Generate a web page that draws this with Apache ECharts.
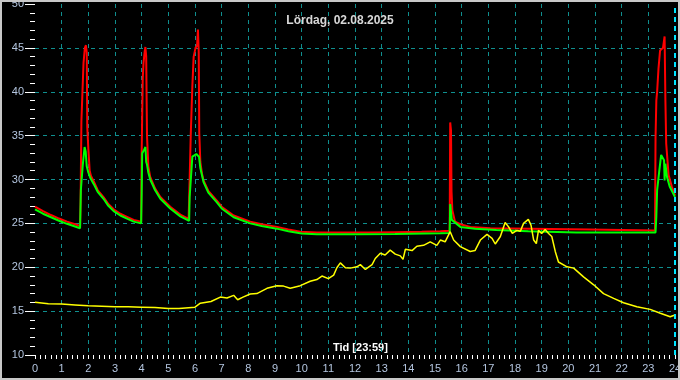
<!DOCTYPE html>
<html>
<head>
<meta charset="utf-8">
<script src="https://cdn.jsdelivr.net/npm/echarts@6/dist/echarts.min.js"></script>
<style>
html,body{margin:0;padding:0;background:#000;}
#c{width:680px;height:380px;}
</style>
</head>
<body>
<div id="c"></div>
<script>
var titleText = "Lördag, 02.08.2025";
var xName = "Tid [23:59]";
var yName = "°C";

var redHours = [0,0.3,0.6,0.9,1.2,1.5,1.69,1.71,1.74,1.78,1.82,1.87,1.91,1.94,1.96,2.0,2.05,2.1,2.2,2.35,2.57,2.75,2.95,3.2,3.45,3.7,3.98,
  4.0,4.04,4.07,4.11,4.14,4.17,4.2,4.25,4.32,4.5,4.7,5.07,5.45,5.76,
  5.78,5.84,5.9,5.95,6.02,6.08,6.11,6.14,6.16,6.2,6.26,6.32,6.5,6.82,7.0,7.45,8.07,8.5,9.07,9.5,9.95,10.57,11.5,12.5,13.5,14.5,15.2,15.55,
  15.57,15.6,15.62,15.65,15.75,15.95,16.32,17.07,18.57,20.8,23.25,
  23.27,23.3,23.33,23.38,23.44,23.55,23.59,23.61,23.64,23.67,23.76,23.88,24.0];
var redTemps = [26.9,26.4,25.95,25.55,25.2,24.9,24.7,27.5,36.6,40.0,43.3,45.0,45.3,44.5,36.0,33.5,31.0,30.4,29.8,28.8,28.0,27.2,26.6,26.1,25.75,25.4,25.2,
  33.0,41.5,43.3,44.5,45.1,44.0,35.0,31.5,30.3,29.0,28.0,26.9,26.0,25.5,
  27.6,35.0,40.6,44.0,45.0,45.3,47.1,44.5,35.3,32.0,30.7,29.9,28.7,27.6,26.9,25.9,25.2,24.9,24.6,24.3,24.05,23.97,23.95,23.95,24.0,24.05,24.1,24.15,
  36.5,35.6,28.6,26.5,25.2,24.9,24.6,24.45,24.4,24.3,24.2,
  34.7,39.0,40.0,42.6,44.7,45.0,44.8,46.3,39.0,34.1,30.5,29.2,28.2];

var greenHours = [0,0.3,0.6,0.9,1.2,1.5,1.69,1.72,1.79,1.86,1.9,1.94,2.0,2.07,2.2,2.35,2.57,2.75,2.95,3.2,3.45,3.7,3.98,
  4.0,4.02,4.08,4.14,4.17,4.2,4.25,4.32,4.5,4.7,5.07,5.45,5.78,
  5.8,5.9,5.97,6.05,6.15,6.2,6.32,6.5,6.82,7.0,7.45,8.07,8.5,9.07,9.5,10.0,10.57,12.0,13.5,15.2,15.55,
  15.57,15.63,15.95,16.5,17.3,18.5,20.3,23.27,
  23.3,23.33,23.4,23.48,23.54,23.59,23.61,23.64,23.7,23.8,24.0];
var greenTemps = [26.6,26.1,25.7,25.3,24.95,24.65,24.45,28.8,31.6,33.7,33.2,31.5,30.8,30.2,29.5,28.6,27.8,27.0,26.4,25.9,25.55,25.2,25.0,
  28.4,33.0,33.3,33.7,32.0,31.7,30.8,30.0,28.8,27.8,26.7,25.8,25.3,
  28.0,32.6,32.8,32.9,32.6,31.3,29.7,28.5,27.4,26.7,25.7,25.0,24.7,24.4,24.1,23.85,23.75,23.75,23.8,23.88,23.9,
  27.2,25.4,24.6,24.4,24.24,24.1,23.97,23.97,
  25.75,28.8,30.7,32.8,32.6,32.2,29.9,31.8,30.3,29.2,28.0];

var yellowHours = [0,0.5,1,1.5,2,2.5,3,3.5,4,4.5,5,5.4,6,6.2,6.6,6.95,7.2,7.45,7.6,7.8,8.07,8.32,8.7,9.07,9.32,9.57,9.95,10.32,10.57,10.76,11.0,11.2,11.32,11.45,11.64,11.82,12.07,12.2,12.39,12.64,12.76,12.95,13.13,13.32,13.51,13.7,13.8,13.89,14.14,14.32,14.57,14.82,15.07,15.2,15.38,15.57,15.7,15.95,16.32,16.5,16.7,16.95,17.14,17.26,17.45,17.63,17.76,17.9,18.07,18.2,18.32,18.5,18.6,18.7,18.8,18.88,19.0,19.13,19.26,19.38,19.51,19.63,19.95,20.2,20.57,20.95,21.32,21.7,22.07,22.57,23.07,23.45,23.82,24.0];
var yellowTemps = [16.0,15.85,15.8,15.7,15.6,15.55,15.5,15.5,15.45,15.4,15.3,15.3,15.45,15.9,16.1,16.6,16.5,16.8,16.3,16.6,16.95,17.0,17.6,17.9,17.85,17.6,17.9,18.4,18.6,19.0,18.7,19.1,19.95,20.5,19.95,19.9,20.05,20.3,19.75,20.3,21.0,21.6,21.4,21.95,21.5,21.3,20.9,22.05,21.9,22.4,22.5,22.9,22.5,23.1,22.9,24.05,23.1,22.35,21.8,21.9,23.1,23.75,23.3,22.65,23.5,25.1,24.6,23.85,24.2,24.1,25.0,25.45,24.8,23.1,22.7,24.2,23.85,24.3,23.85,23.5,21.8,20.6,20.05,19.9,18.9,18.0,17.0,16.45,15.95,15.5,15.2,14.75,14.35,14.55];

var xTicks = [0,24,1];
var yTicks = [10,50,5];

function pairs(h, v){ var o=[]; for(var i=0;i<h.length;i++) o.push([h[i], v[i]]); return o; }

var labelColor = '#b4c6e0';
var gridColor = '#0f8f8f';
var chart = echarts.init(document.getElementById('c'), null, {renderer:'canvas'});
chart.setOption({
  backgroundColor: '#000',
  animation: false,
  title: {
    text: titleText, left: 'center', top: 10,
    textStyle: {color:'#d8d8d8', fontSize:12, fontWeight:'bold', fontFamily:'Liberation Sans'}
  },
  grid: {left:35, right:5, top:4, bottom:25, containLabel:false, outerBoundsMode:'none'},
  xAxis: {
    type:'value', min:xTicks[0], max:xTicks[1], interval:xTicks[2],
    axisLine:{show:false},
    axisTick:{show:true, length:4, lineStyle:{color:'#ffffff', width:1}},
    minorTick:{show:true, splitNumber:5, length:4, lineStyle:{color:'#ffffff', width:1}},
    axisLabel:{color:labelColor, fontSize:11, fontFamily:'Liberation Sans', margin:8},
    splitLine:{show:true, showMinLine:false, showMaxLine:false, lineStyle:{color:gridColor, type:[4,4], width:1}}
  },
  yAxis: {
    type:'value', min:yTicks[0], max:yTicks[1], interval:yTicks[2],
    name: yName, nameLocation:'middle', nameRotate:90, nameGap:22,
    nameTextStyle:{color:'#e0e0e0', fontSize:11, fontFamily:'Liberation Sans'},
    axisLine:{show:false},
    axisTick:{show:true, length:10, lineStyle:{color:'#ffffff', width:1}},
    minorTick:{show:true, splitNumber:5, length:5, lineStyle:{color:'#ffffff', width:1}},
    axisLabel:{color:labelColor, fontSize:11, fontFamily:'Liberation Sans', margin:11},
    splitLine:{show:true, showMinLine:false, showMaxLine:false, lineStyle:{color:gridColor, type:[4,4], width:1}}
  },
  graphic: [
    {type:'text', left:333, top:342, style:{text:xName, fill:'#ffffff', font:'bold 11px "Liberation Sans"'}},
    {type:'rect', shape:{x:1, y:1, width:678, height:378}, style:{fill:'none', stroke:'#c8c8c8', lineWidth:2}, z:100}
  ],
  series: [
    {type:'line', data:pairs(redHours, redTemps), showSymbol:false, lineStyle:{color:'#ff0000', width:2}, itemStyle:{color:'#ff0000'}, z:2,
     markLine:{silent:true, symbol:['none','none'], label:{show:false}, lineStyle:{color:'#00e5ff', type:[5,4], width:2}, data:[{xAxis:xTicks[1]}]}},
    {type:'line', data:pairs(greenHours, greenTemps), showSymbol:false, lineStyle:{color:'#00ff00', width:2}, itemStyle:{color:'#00ff00'}, z:3},
    {type:'line', data:pairs(yellowHours, yellowTemps), showSymbol:false, lineStyle:{color:'#ffff00', width:1.5}, itemStyle:{color:'#ffff00'}, z:4}
  ]
});
</script>
</body>
</html>
